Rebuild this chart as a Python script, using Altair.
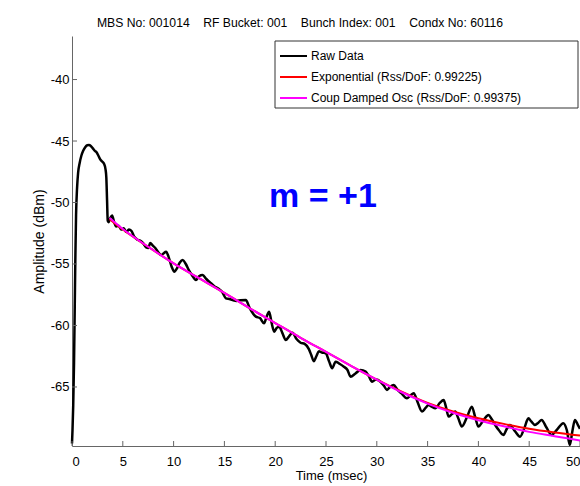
import altair as alt
import pandas as pd

# Raw bunch signal amplitude (dBm) against time (msec)
raw_time = [0.0, 0.05, 0.12, 0.2, 0.27, 0.33, 0.4, 0.5, 0.6, 0.75, 0.92, 1.1, 1.3, 1.5, 1.67,
            1.85, 2.05, 2.25, 2.4, 2.6, 2.75, 2.95, 3.15, 3.3, 3.38, 3.45, 3.52, 3.6, 3.75,
            3.95, 4.15, 4.35, 4.6, 4.85, 5.1, 5.35, 5.6, 5.85, 6.1, 6.4, 6.7, 7.0, 7.3, 7.5,
            7.7, 7.95, 8.2, 8.5, 8.77, 9.0, 9.26, 9.5, 9.8, 10.08, 10.3, 10.6, 10.9, 11.2,
            11.5, 11.8, 12.2, 12.5, 12.86, 13.2, 13.68, 14.0, 14.4, 14.8, 15.15, 15.5, 15.8,
            16.2, 16.6, 17.1, 17.5, 18.1, 18.5, 18.9, 19.15, 19.4, 19.65, 19.9, 20.15, 20.4,
            20.7, 21.04, 21.35, 21.7, 22.1, 22.5, 22.9, 23.3, 23.55, 23.8, 24.05, 24.3, 24.6,
            24.97, 25.3, 25.61, 25.95, 26.3, 26.76, 27.1, 27.42, 27.9, 28.4, 28.9, 29.2, 29.54,
            29.9, 30.36, 30.7, 31.0, 31.3, 31.67, 32.0, 32.4, 32.97, 33.3, 33.63, 34.0, 34.45,
            34.8, 35.1, 35.4, 35.76, 36.2, 36.58, 36.8, 37.07, 37.4, 37.72, 38.0, 38.37, 38.9,
            39.35, 39.7, 40.0, 40.5, 40.99, 41.3, 41.65, 42.0, 42.46, 42.8, 43.1, 43.6, 44.1,
            44.5, 44.92, 45.2, 45.57, 45.9, 46.22, 46.7, 47.2, 47.8, 48.35, 48.7, 49.0, 49.25,
            49.5, 49.8, 50.0]
raw_amp = [-69.6, -68.5, -66.5, -63.0, -58.5, -54.5, -51.0, -48.8, -47.6, -46.8, -46.2, -45.8,
           -45.5, -45.35, -45.33, -45.4, -45.6, -45.8, -45.9, -46.2, -46.45, -46.65, -46.85,
           -47.3, -48.0, -49.8, -51.5, -51.6, -51.3, -51.05, -51.6, -51.95, -51.9, -52.2,
           -52.1, -52.4, -52.2, -52.3, -52.75, -53.0, -53.1, -53.3, -53.65, -53.7, -53.3,
           -53.5, -53.7, -54.05, -54.27, -54.15, -54.0, -54.4, -55.2, -55.63, -55.4, -54.9,
           -54.67, -55.0, -55.5, -55.9, -56.3, -56.0, -55.9, -56.2, -56.57, -56.8, -57.0,
           -57.3, -57.79, -57.85, -57.93, -58.0, -57.95, -57.93, -58.6, -59.28, -59.4, -59.82,
           -59.3, -58.88, -59.8, -60.5, -60.2, -60.1, -60.6, -61.18, -60.9, -60.6, -61.1,
           -61.4, -61.5, -61.9, -62.4, -62.9, -62.5, -62.1, -62.2, -62.26, -62.9, -63.48,
           -62.94, -63.1, -63.35, -63.6, -64.16, -63.9, -63.62, -63.75, -64.1, -64.57, -64.4,
           -64.57, -64.9, -65.24, -65.0, -64.84, -65.2, -65.5, -65.92, -65.7, -65.51, -66.2,
           -67.0, -66.7, -66.46, -66.6, -66.73, -66.3, -66.06, -66.6, -67.41, -67.2, -67.0,
           -67.5, -68.22, -67.4, -66.6, -67.5, -68.22, -67.7, -67.28, -67.6, -68.09, -68.5,
           -68.9, -68.4, -68.09, -68.6, -69.04, -68.4, -67.55, -67.8, -68.09, -67.9, -67.68,
           -68.3, -68.9, -68.4, -67.95, -68.5, -69.72, -68.6, -67.68, -68.1, -68.4]

# Fitted curves
fit_time = [3.7, 5, 7.5, 10, 12.5, 15, 17.5, 20, 22.5, 25, 27.5, 30, 32.5, 35, 37.5, 40,
            42.5, 45, 47.5, 50]
exp_fit = [-51.35, -52.2, -53.6, -54.95, -56.15, -57.35, -58.6, -59.8, -61.0, -62.15, -63.3,
           -64.4, -65.4, -66.3, -67.0, -67.55, -68.0, -68.4, -68.7, -68.95]
osc_fit = [-51.25, -52.15, -53.6, -54.95, -56.15, -57.35, -58.6, -59.8, -61.0, -62.15, -63.3,
           -64.4, -65.45, -66.35, -67.1, -67.7, -68.2, -68.65, -69.0, -69.35]

x_ticks = [0, 5, 10, 15, 20, 25, 30, 35, 40, 45, 50]
y_ticks = [-65, -60, -55, -50, -45, -40]

series_names = ["Raw Data", "Exponential (Rss/DoF: 0.99225)",
                "Coup Damped Osc (Rss/DoF: 0.99375)"]
series_colors = ["#000000", "#ff0000", "#ff00ff"]

NB = "\u00a0"
title_text = (f"MBS No: 001014{NB*4}RF Bucket: 001{NB*4}"
              f"Bunch Index: 001{NB*4}Condx No: 60116")

FONT = "Liberation Sans"
W, H = 508, 410

x_scale = alt.Scale(domain=[0, 50], nice=False, zero=False)
y_scale = alt.Scale(domain=[-69.8, -36.46], nice=False, zero=False)

# plain hyphen-minus on the tick labels
PLAIN_LABEL = "'' + datum.value"

x_axis = alt.Axis(values=x_ticks, title="Time (msec)", grid=False, ticks=False,
                  labelPadding=9, titlePadding=1, titleFontWeight="normal",
                  titleFontSize=13, titleX=259, labelExpr=PLAIN_LABEL)
y_axis = alt.Axis(values=y_ticks, title="Amplitude (dBm)", grid=False, ticks=False,
                  labelPadding=3, titlePadding=4, titleFontWeight="normal",
                  titleFontSize=14, labelExpr=PLAIN_LABEL)


def xq(field="t"):
    return alt.X(f"{field}:Q", scale=x_scale, axis=x_axis)


def yq(field="amp"):
    return alt.Y(f"{field}:Q", scale=y_scale, axis=y_axis)


raw_df = pd.DataFrame({"t": raw_time, "amp": raw_amp})
exp_df = pd.DataFrame({"t": fit_time, "amp": exp_fit})
osc_df = pd.DataFrame({"t": fit_time, "amp": osc_fit})

raw_line = alt.Chart(raw_df).mark_line(
    strokeWidth=2.5, interpolate="monotone", color=series_colors[0]).encode(
    x=xq(), y=yq(), order="t:Q")
exp_line = alt.Chart(exp_df).mark_line(
    strokeWidth=2, interpolate="monotone", color=series_colors[1]).encode(x=xq(), y=yq())
osc_line = alt.Chart(osc_df).mark_line(
    strokeWidth=2, interpolate="monotone", color=series_colors[2]).encode(x=xq(), y=yq())

# Inward tick marks along the left and bottom axes
ytick_marks = alt.Chart(pd.DataFrame({"amp": y_ticks})).mark_rule(
    color="#666666", strokeWidth=1).encode(y=yq(), x=alt.value(0), x2=alt.value(5))
xtick_marks = alt.Chart(pd.DataFrame({"t": x_ticks})).mark_rule(
    color="#666666", strokeWidth=1).encode(x=xq(), y=alt.value(H), y2=alt.value(H - 5))

# Mode annotation
mode_df = pd.DataFrame({"t": [24.7], "amp": [-50.4], "label": ["m = +1"]})
mode_text = alt.Chart(mode_df).mark_text(
    font=FONT, fontSize=34, fontWeight="bold", color="#0000ff",
    align="center", baseline="alphabetic").encode(x=xq(), y=yq(), text="label:N")

# Legend box in the upper right corner of the axes
LX0, LX1, LY0, LY1 = 203, 506, 5, 72
ROW_Y = [20, 41, 62]
legend_df = pd.DataFrame({"name": series_names})
legend_box = alt.Chart(legend_df.head(1)).mark_rect(
    fill="#ffffff", stroke="#333333", strokeWidth=1).encode(
    x=alt.value(LX0), x2=alt.value(LX1), y=alt.value(LY0), y2=alt.value(LY1))
legend_layers = [legend_box]
for i, name in enumerate(series_names):
    row = legend_df.iloc[[i]]
    legend_layers.append(alt.Chart(row).mark_rule(
        color=series_colors[i], strokeWidth=2).encode(
        x=alt.value(LX0 + 5), x2=alt.value(LX0 + 32), y=alt.value(ROW_Y[i])))
    legend_layers.append(alt.Chart(row).mark_text(
        font=FONT, fontSize=12, color="#000000", align="left", baseline="middle").encode(
        x=alt.value(LX0 + 36), y=alt.value(ROW_Y[i]), text="name:N"))

chart = alt.layer(raw_line, exp_line, osc_line, ytick_marks, xtick_marks, mode_text,
                  *legend_layers).properties(
    width=W, height=H,
    background="#ffffff",
    title=alt.TitleParams(title_text, font=FONT, fontSize=12.2, fontWeight="normal",
                          color="#000000", anchor="middle", frame="group", dx=-26,
                          dy=3, offset=0, baseline="alphabetic"),
    autosize=alt.AutoSizeParams(type="none"),
    padding={"left": 72, "top": 36, "right": 0, "bottom": 40},
).configure_view(stroke=None).configure_axis(
    domainColor="#666666", labelFont=FONT, labelFontSize=13, labelColor="#000000",
    titleFont=FONT, titleColor="#000000",
)

chart.save("out.html", embed_options={"renderer": "svg", "actions": False})
